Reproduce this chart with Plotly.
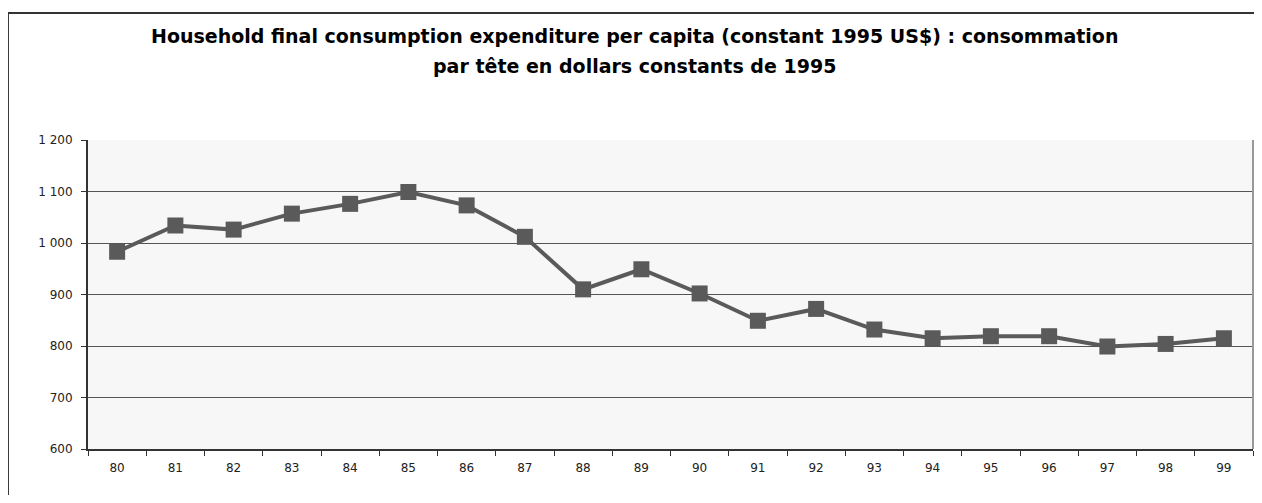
import plotly.graph_objects as go

# Years (two-digit labels) and consumption per capita, constant 1995 US$
years = ['80', '81', '82', '83', '84', '85', '86', '87', '88', '89',
         '90', '91', '92', '93', '94', '95', '96', '97', '98', '99']
consumption = [983, 1034, 1026, 1057, 1076, 1099, 1073, 1012, 910, 949,
               902, 849, 872, 832, 815, 819, 819, 799, 804, 815]

y_ticks = [600, 700, 800, 900, 1000, 1100, 1200]
y_labels = ['600', '700', '800', '900', '1 000', '1 100', '1 200']

title_lines = ['Household final consumption expenditure per capita (constant 1995 US$) : consommation',
               'par tête en dollars constants de 1995']

fig = go.Figure()

fig.add_trace(go.Scatter(
    x=years, y=consumption, mode='lines+markers',
    line=dict(color='#5a5a5a', width=4),
    marker=dict(symbol='square', size=16, color='#5a5a5a'),
    showlegend=False,
))

# Title as two annotations to get the wide line spacing
for text, ypos in zip(title_lines, [1.337, 1.240]):
    fig.add_annotation(text='<b>' + text + '</b>', xref='paper', yref='paper',
                       x=0.4695, y=ypos, xanchor='center', yanchor='middle',
                       showarrow=False,
                       font=dict(family='DejaVu Sans', size=19, color='black'))

# Outer frame (left and top edges only are visible in the picture)
frame = dict(type='line', xref='paper', yref='paper', line=dict(color='#333333', width=2))
fig.add_shape(**frame, x0=-0.0687, x1=-0.0687, y0=-0.3, y1=1.411)
fig.add_shape(**frame, x0=-0.0687, x1=1.05, y0=1.411, y1=1.411)
# right edge of the plot area
fig.add_shape(type='line', xref='paper', yref='paper', x0=1, x1=1, y0=0, y1=1,
              line=dict(color='#999999', width=2))

fig.update_layout(
    width=1246, height=487,
    margin=dict(l=80, r=1, t=132, b=46),
    paper_bgcolor='white',
    plot_bgcolor='#f7f7f7',
    font=dict(family='DejaVu Sans', size=12, color='#222222'),
)

fig.update_xaxes(
    type='category', range=[-0.5, 19.5], tickson='boundaries',
    ticks='outside', ticklen=5, tickcolor='#333333', showgrid=False,
    showline=True, linecolor='#333333', linewidth=2, ticklabelstandoff=7,
)
fig.update_yaxes(
    range=[600, 1200], tickvals=y_ticks, ticktext=y_labels,
    ticks='outside', ticklen=5, tickcolor='#333333',
    showgrid=True, gridcolor='#555555', gridwidth=1,
    showline=True, linecolor='#333333', linewidth=2, zeroline=False,
    ticklabelstandoff=6,
)

fig.write_html('out.html')
